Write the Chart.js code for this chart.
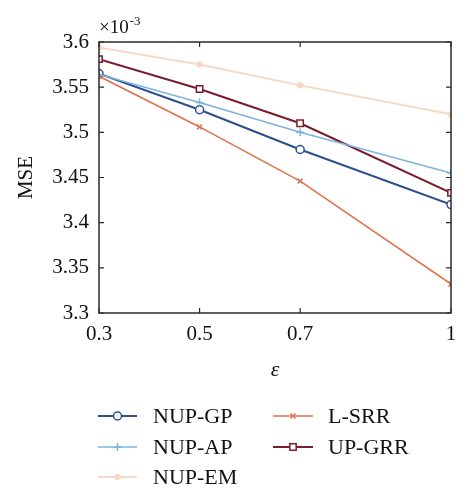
<!DOCTYPE html>
<html>
<head>
<meta charset="utf-8">
<script src="https://cdn.jsdelivr.net/npm/chart.js@4/dist/chart.umd.min.js"></script>
<style>
  html, body { margin: 0; padding: 0; background: #fff; }
  canvas { display: block; }
</style>
</head>
<body>
<canvas id="c" width="472" height="500"></canvas>
<script>
// ─── Data (MSE values, ×10^-3) ──────────────────────────────────────────────
const epsilons = [0.3, 0.5, 0.7, 1];
const xTicks   = [0.3, 0.5, 0.7, 1];
const yTicks   = [3.3, 3.35, 3.4, 3.45, 3.5, 3.55, 3.6];

const nupGp = [3.565, 3.525, 3.481, 3.420];
const nupAp = [3.564, 3.533, 3.500, 3.455];
const nupEm = [3.594, 3.575, 3.552, 3.520];
const lSrr  = [3.562, 3.506, 3.446, 3.332];
const upGrr = [3.581, 3.548, 3.510, 3.433];

const SERIF = '"Liberation Serif", "DejaVu Serif", serif';
const AXIS  = '#2a2a2a';

function pts(vals) {
  return vals.map((v, i) => ({ x: epsilons[i], y: v }));
}

function series(label, vals, color, style, radius, width, fill) {
  return {
    label,
    data: pts(vals),
    borderColor: color,
    backgroundColor: color,
    borderWidth: width,
    pointStyle: style,
    pointRadius: radius,
    pointHoverRadius: radius,
    pointBorderColor: color,
    pointBackgroundColor: fill || '#fff',
    pointBorderWidth: 1.5,
    tension: 0,
  };
}

const datasets = [
  series('NUP-EM', nupEm, '#f7d8c6', 'circle', 2.5, 2, '#f7d8c6'),
  series('NUP-AP', nupAp, '#7eb3dc', 'cross',  4,   1.6),
  series('L-SRR',  lSrr,  '#e0724f', 'crossRot', 3.5, 1.6),
  series('UP-GRR', upGrr, '#7b1c2c', 'rect',   4.5, 2),
  series('NUP-GP', nupGp, '#2d4f8e', 'circle', 4,   2),
];

// legend layout: [label, column, row]
const legendItems = [
  ['NUP-GP', 0, 0], ['NUP-AP', 0, 1], ['NUP-EM', 0, 2],
  ['L-SRR', 1, 0],  ['UP-GRR', 1, 1],
];

// ─── Plugin: background, frame, inward ticks, labels, legend ───────────────
const decor = {
  id: 'decor',
  beforeDraw(chart) {
    const { ctx, width, height } = chart;
    ctx.save();
    ctx.fillStyle = '#fff';
    ctx.fillRect(0, 0, width, height);
    ctx.restore();
  },
  afterDraw(chart) {
    const { ctx, chartArea: a, scales } = chart;
    ctx.save();

    // frame
    ctx.strokeStyle = AXIS;
    ctx.lineWidth = 1.5;
    ctx.strokeRect(a.left, a.top, a.right - a.left, a.bottom - a.top);

    // inward ticks
    const tl = 5;
    ctx.lineWidth = 1.2;
    ctx.beginPath();
    xTicks.forEach(v => {
      const x = scales.x.getPixelForValue(v);
      ctx.moveTo(x, a.bottom); ctx.lineTo(x, a.bottom - tl);
      ctx.moveTo(x, a.top);    ctx.lineTo(x, a.top + tl);
    });
    yTicks.forEach(v => {
      const y = scales.y.getPixelForValue(v);
      ctx.moveTo(a.left, y);  ctx.lineTo(a.left + tl, y);
      ctx.moveTo(a.right, y); ctx.lineTo(a.right - tl, y);
    });
    ctx.stroke();

    // axis titles
    ctx.fillStyle = '#111';
    ctx.textAlign = 'center';
    ctx.textBaseline = 'middle';
    ctx.font = 'italic 22px ' + SERIF;
    ctx.fillText('ε', (a.left + a.right) / 2, 370);

    ctx.save();
    ctx.translate(26, (a.top + a.bottom) / 2);
    ctx.rotate(-Math.PI / 2);
    ctx.font = '21px ' + SERIF;
    ctx.fillText('MSE', 0, 0);
    ctx.restore();

    // exponent
    ctx.textAlign = 'left';
    ctx.textBaseline = 'alphabetic';
    ctx.font = '19px ' + SERIF;
    ctx.fillText('×10', a.left, 33);
    const w = ctx.measureText('×10').width;
    ctx.font = '13px ' + SERIF;
    ctx.fillText('-3', a.left + w + 1, 25);

    // legend
    const colX = [[98, 137, 153], [273, 313, 328]];
    const rowY = [416, 447, 477];
    legendItems.forEach(([label, c, r]) => {
      const ds = chart.data.datasets.find(d => d.label === label);
      const [x0, x1, tx] = colX[c];
      const y = rowY[r];
      ctx.strokeStyle = ds.borderColor;
      ctx.lineWidth = ds.borderWidth;
      ctx.beginPath();
      ctx.moveTo(x0, y); ctx.lineTo(x1, y);
      ctx.stroke();
      ctx.fillStyle = ds.pointBackgroundColor;
      ctx.lineWidth = ds.pointBorderWidth;
      Chart.helpers.drawPoint(ctx, {
        pointStyle: ds.pointStyle,
        radius: ds.pointRadius,
        rotation: 0,
        borderWidth: ds.pointBorderWidth,
      }, (x0 + x1) / 2, y);
      ctx.fillStyle = '#111';
      ctx.font = '22px ' + SERIF;
      ctx.textAlign = 'left';
      ctx.textBaseline = 'middle';
      ctx.fillText(label, tx, y + 1);
    });

    ctx.restore();
  },
};

new Chart(document.getElementById('c'), {
  type: 'line',
  data: { datasets },
  plugins: [decor],
  options: {
    responsive: false,
    animation: false,
    devicePixelRatio: 1,
    layout: { padding: { top: 42, right: 21, left: 0, bottom: 0 } },
    plugins: {
      legend:  { display: false },
      tooltip: { enabled: false },
    },
    scales: {
      x: {
        type: 'linear',
        min: 0.3,
        max: 1,
        afterBuildTicks: s => { s.ticks = xTicks.map(v => ({ value: v })); },
        afterFit: s => { s.height = 187; },
        grid:   { display: false, drawTicks: false },
        border: { display: false },
        ticks: {
          color: '#111',
          padding: 9,
          maxRotation: 0,
          font: { family: SERIF, size: 21 },
          callback: v => String(+v.toFixed(2)),
        },
      },
      y: {
        min: 3.3,
        max: 3.6,
        afterBuildTicks: s => { s.ticks = yTicks.map(v => ({ value: v })); },
        afterFit: s => { s.width = 99; },
        grid:   { display: false, drawTicks: false },
        border: { display: false },
        ticks: {
          color: '#111',
          padding: 10,
          font: { family: SERIF, size: 21 },
          callback: v => String(+v.toFixed(2)),
        },
      },
    },
  },
});
</script>
</body>
</html>
